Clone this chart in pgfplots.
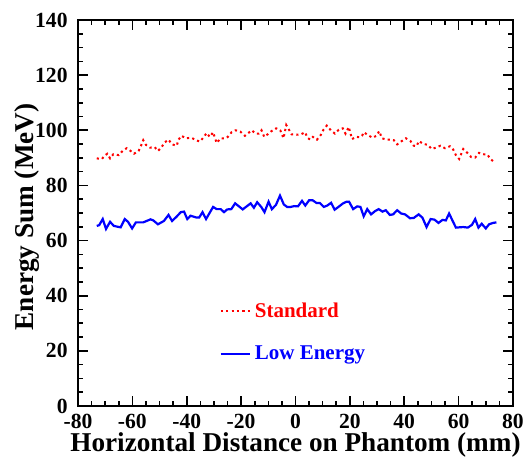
\documentclass[border=0pt]{standalone}
\usepackage{fontspec}
\setmainfont{Liberation Serif}
\usepackage{pgfplots}
\pgfplotsset{compat=1.18}
\begin{document}
\begin{tikzpicture}
\begin{axis}[
  scale only axis,
  width=217.5pt, height=193pt,
  xmin=-80, xmax=80, ymin=0, ymax=140,
  xtick={-80,-60,...,80}, ytick={0,20,...,140},
  minor x tick num=3, minor y tick num=3,
  tick align=inside,
  xtick pos=both, ytick pos=both,
  major tick length=5pt, minor tick length=2.5pt,
  every tick/.style={black, line width=0.8pt},
  axis line style={line width=1pt},
  /pgf/number format/assume math mode=true,
  tick label style={font=\fontsize{10.8}{11}\selectfont\bfseries},
  xticklabel style={inner sep=0pt, yshift=-4.1pt},
  yticklabel style={inner sep=0pt, xshift=-5pt},
  label style={font=\fontsize{13.6}{15}\selectfont\bfseries, inner sep=0pt},
  xlabel={Horizontal Distance on Phantom (mm)},
  ylabel={Energy Sum (MeV)},
  xlabel style={at={(rel axis cs:0.5,-0.119)}, anchor=base},
  ylabel style={at={(rel axis cs:-0.118,0.49)}, anchor=center},
  legend style={draw=none, fill=none, at={(rel axis cs:0.311,0.29)}, anchor=north west,
    font=\fontsize{10.5}{11}\selectfont\bfseries, row sep=9pt},
  legend cell align=left,
  legend image code/.code={\draw[#1] (0pt,0pt) -- (10pt,0pt); \path (0pt,0pt) -- (14.5pt,0pt);},
  clip=false,
]
\addplot[red, line width=1pt, dash pattern=on 1.1pt off 1.6pt] coordinates {
(-73.1,89.8) (-71.2,89.6) (-70.2,90.8) (-69.2,91.5) (-68.2,89.8) (-67.0,91.3)
(-65.0,91.0) (-63.6,92.5) (-62.1,93.5) (-60.9,92.7) (-59.4,91.5) (-57.7,92.5)
(-56.9,94.2) (-56.0,96.4) (-55.0,94.7) (-53.5,93.7) (-51.8,93.9) (-50.6,92.5)
(-49.4,93.7) (-48.1,95.6) (-46.7,96.6) (-45.4,94.9) (-43.7,94.4) (-43.0,96.6)
(-42.0,98.0) (-40.3,97.1) (-38.3,97.3) (-36.6,96.4) (-35.1,95.9) (-33.7,97.6)
(-32.7,99.0) (-31.5,97.6) (-30.3,99.3) (-29.0,95.4) (-27.5,97.1) (-26.1,97.0)
(-24.9,97.6) (-23.5,99.3) (-22.0,100.0) (-20.3,99.5) (-18.6,98.0) (-17.6,98.8)
(-16.1,100.0) (-14.7,98.8) (-13.5,98.8) (-12.5,100.0) (-11.5,97.6) (-10.3,98.5)
(-8.8,99.7) (-7.1,100.7) (-5.6,100.0) (-4.4,97.1) (-3.4,101.9) (-2.4,100.2)
(-1.4,98.5) (0.3,98.4) (2.0,98.5) (3.5,99.3) (4.4,97.3) (5.4,96.6) (6.4,97.6)
(7.9,96.6) (9.3,98.3) (10.3,100.2) (11.5,101.7) (13.0,100.0) (14.5,98.8)
(15.9,100.2) (17.4,100.7) (18.4,98.8) (19.6,101.2) (20.8,96.8) (22.3,97.6)
(23.6,97.5) (24.5,98.0) (25.1,99.3) (26.6,98.3) (28.3,97.3) (29.8,98.0)
(30.8,99.7) (31.8,97.1) (33.5,96.6) (35.2,96.6) (36.2,96.4) (37.4,94.9)
(39.1,96.1) (40.6,97.1) (42.3,96.1) (43.5,94.4) (44.5,94.2) (45.4,96.1)
(46.9,95.1) (48.7,94.7) (50.1,93.2) (51.6,93.7) (53.3,94.4) (55.0,93.5)
(56.8,94.2) (58.0,93.0) (59.0,91.0) (60.2,89.6) (61.7,93.2) (63.2,91.8)
(64.6,90.3) (66.1,90.1) (67.5,91.8) (69.3,91.3) (70.5,91.3) (71.7,89.6)
(73.2,88.4)
};
\addlegendentry{\textcolor{red}{Standard}}
\addplot[blue, line width=1.1pt] coordinates {
(-73.1,65.3) (-72.2,65.6) (-70.9,67.8) (-69.7,64.2) (-68.2,66.8) (-66.8,65.3)
(-64.3,64.8) (-62.8,67.8) (-61.6,66.8) (-60.1,64.4) (-58.7,66.6) (-56.0,66.6)
(-53.3,67.7) (-52.3,67.3) (-50.6,65.9) (-48.4,67.1) (-46.7,69.3) (-45.4,67.1)
(-43.7,68.7) (-42.2,70.3) (-41.0,70.5) (-39.8,67.8) (-38.6,69.0) (-36.6,68.4)
(-35.4,68.4) (-34.2,70.3) (-32.9,67.8) (-30.3,72.2) (-29.0,71.4) (-27.5,71.4)
(-26.3,70.3) (-25.1,71.3) (-23.6,71.4) (-22.2,73.5) (-19.4,71.3) (-16.5,73.5)
(-15.3,71.9) (-14.1,73.9) (-12.6,72.2) (-11.4,70.3) (-9.9,74.1) (-8.7,71.4)
(-7.2,72.9) (-5.7,76.3) (-4.3,73.1) (-3.1,72.2) (-1.8,72.2) (-0.4,72.5)
(0.9,72.4) (2.4,74.4) (3.6,72.7) (5.0,74.6) (6.3,74.6) (7.8,73.6) (9.0,73.6)
(10.4,72.2) (11.7,72.7) (13.1,73.7) (14.4,71.2) (15.8,72.2) (17.5,73.5)
(18.8,74.1) (19.7,74.1) (21.2,71.4) (22.7,72.4) (23.9,72.2) (25.1,68.8)
(26.4,71.4) (27.8,69.5) (29.3,70.7) (30.6,71.4) (32.0,70.5) (33.2,71.0)
(34.7,69.3) (35.9,69.5) (37.4,71.0) (38.9,69.8) (40.3,69.5) (42.1,68.1)
(43.5,68.2) (45.3,69.5) (46.7,68.3) (48.2,64.9) (49.7,67.8) (51.1,67.6)
(52.6,66.4) (54.1,67.5) (55.3,67.3) (56.5,69.8) (59.0,64.7) (61.7,64.9)
(63.4,64.7) (64.9,65.7) (66.1,67.8) (67.3,64.7) (68.5,66.1) (70.0,64.4)
(71.2,65.9) (72.7,66.4) (73.9,66.6)
};
\addlegendentry{\textcolor{blue}{Low Energy}}
\path (rel axis cs:-0.1793,-0.1399) rectangle (rel axis cs:1.0414,1.0518);
\end{axis}
\end{tikzpicture}
\end{document}
